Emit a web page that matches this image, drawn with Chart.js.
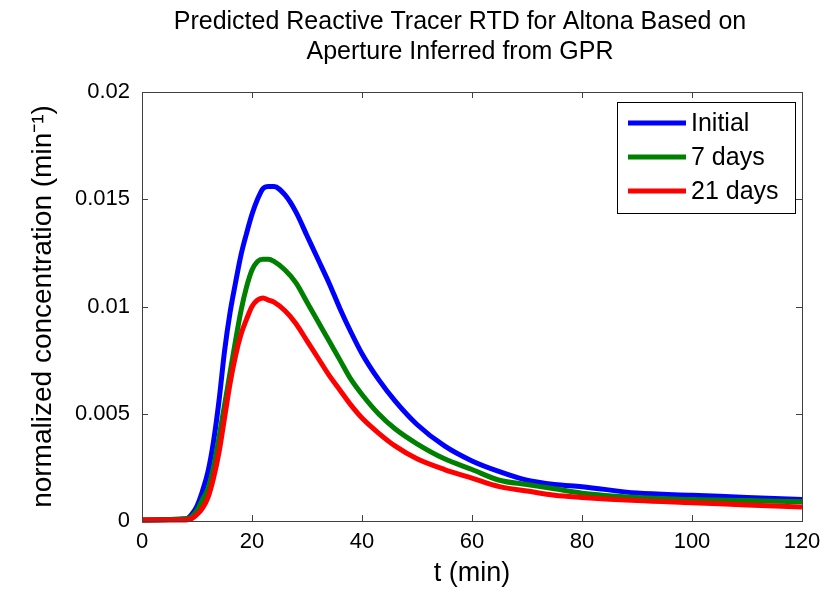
<!DOCTYPE html>
<html>
<head>
<meta charset="utf-8">
<script src="https://cdn.jsdelivr.net/npm/chart.js@4.4.1/dist/chart.umd.min.js"></script>
<style>
  html, body { margin: 0; padding: 0; background: #fff; }
  #wrap { width: 836px; height: 590px; }
</style>
</head>
<body>
<div id="wrap"><canvas id="rtd" width="836" height="590"></canvas></div>
<script>
// time (min)
const time = [0, 8, 9, 10, 11, 12, 13, 14, 15, 16, 17, 18, 19, 20, 21, 22, 23, 24, 26, 28, 30,
  32, 34, 36, 38, 40, 43, 46, 50, 55, 60, 65, 70, 75, 80, 90, 100, 110, 120];

// normalized concentration (1/min)
const initial = [0.00005, 0.0001, 0.0003, 0.0007, 0.0014, 0.0023, 0.0037, 0.0056, 0.0079, 0.0097, 0.0111,
  0.0124, 0.0134, 0.0143, 0.0150, 0.0155, 0.0156, 0.0156, 0.0152, 0.0144, 0.0133,
  0.0122, 0.0111, 0.0099, 0.0088, 0.0078, 0.0066, 0.0056, 0.0045, 0.0035, 0.0028,
  0.0023, 0.0019, 0.0017, 0.0016, 0.0013, 0.0012, 0.0011, 0.0010];
const sevenDays = [0.00005, 0.0001, 0.0002, 0.0005, 0.0010, 0.0015, 0.0025, 0.0039, 0.0054, 0.0069, 0.0084,
  0.0098, 0.0109, 0.0117, 0.0121, 0.0122, 0.0122, 0.0121, 0.0117, 0.0111, 0.0102,
  0.0093, 0.0084, 0.0075, 0.0066, 0.0059, 0.0050, 0.0043, 0.0036, 0.0029, 0.0024,
  0.0019, 0.0017, 0.0015, 0.0013, 0.0011, 0.0010, 0.00095, 0.0009];
const twentyOneDays = [0.00005, 0.00005, 0.0001, 0.0003, 0.0006, 0.0011, 0.0020, 0.0032, 0.0048, 0.0064, 0.0077,
  0.0087, 0.0094, 0.0100, 0.0103, 0.0104, 0.0103, 0.0102, 0.0098, 0.0092, 0.0084,
  0.0076, 0.0068, 0.0061, 0.0054, 0.0048, 0.0041, 0.0035, 0.0029, 0.0024, 0.0020,
  0.0016, 0.0014, 0.0012, 0.0011, 0.00095, 0.00085, 0.00075, 0.00065];

const seriesLabels = ['Initial', '7 days', '21 days'];
const seriesColors = ['#0000ff', '#008000', '#ff0000'];
const titleLines = ['Predicted Reactive Tracer RTD for Altona Based on', 'Aperture Inferred from GPR'];

const FONT = '"Liberation Sans", Arial, Helvetica, sans-serif';
const AXIS = '#404040';

function toPoints(values) {
  return time.map((t, i) => ({ x: t, y: values[i] }));
}

// MATLAB style box, inward ticks, title and legend
const matlabLook = {
  id: 'matlabLook',
  afterDraw(chart) {
    const ctx = chart.ctx;
    const a = chart.chartArea;
    const xs = chart.scales.x;
    const ys = chart.scales.y;
    ctx.save();

    // title
    ctx.fillStyle = '#000';
    ctx.font = '25px ' + FONT;
    ctx.textAlign = 'center';
    ctx.textBaseline = 'middle';
    titleLines.forEach((line, i) => ctx.fillText(line, 460, 22 + i * 30));

    // frame
    ctx.strokeStyle = AXIS;
    ctx.lineWidth = 1;
    ctx.strokeRect(a.left + 0.5, a.top + 0.5, a.right - a.left, a.bottom - a.top);

    // inward ticks
    const tl = 6;
    ctx.beginPath();
    xs.ticks.forEach(tk => {
      const px = Math.round(xs.getPixelForValue(tk.value)) + 0.5;
      ctx.moveTo(px, a.bottom); ctx.lineTo(px, a.bottom - tl);
      ctx.moveTo(px, a.top); ctx.lineTo(px, a.top + tl);
    });
    ys.ticks.forEach(tk => {
      const py = Math.round(ys.getPixelForValue(tk.value)) + 0.5;
      ctx.moveTo(a.left, py); ctx.lineTo(a.left + tl, py);
      ctx.moveTo(a.right, py); ctx.lineTo(a.right - tl, py);
    });
    ctx.stroke();

    // legend box
    const box = { x: 617, y: 102, w: 178, h: 111 };
    ctx.fillStyle = '#fff';
    ctx.fillRect(box.x, box.y, box.w, box.h);
    ctx.strokeStyle = '#000';
    ctx.strokeRect(box.x + 0.5, box.y + 0.5, box.w, box.h);
    ctx.font = '25px ' + FONT;
    ctx.textAlign = 'left';
    ctx.textBaseline = 'middle';
    chart.data.datasets.forEach((ds, i) => {
      const cy = 123 + i * 34;
      ctx.strokeStyle = ds.borderColor;
      ctx.lineWidth = 5;
      ctx.beginPath();
      ctx.moveTo(628, cy); ctx.lineTo(686, cy);
      ctx.stroke();
      ctx.fillStyle = '#000';
      ctx.fillText(ds.label, 691, cy + 1);
    });
    ctx.restore();
  }
};

new Chart(document.getElementById('rtd'), {
  type: 'line',
  data: {
    datasets: [
      { label: seriesLabels[0], data: toPoints(initial), borderColor: seriesColors[0], order: 2 },
      { label: seriesLabels[1], data: toPoints(sevenDays), borderColor: seriesColors[1], order: 1 },
      { label: seriesLabels[2], data: toPoints(twentyOneDays), borderColor: seriesColors[2], order: 0 }
    ]
  },
  options: {
    responsive: false,
    animation: false,
    layout: { padding: { top: 92, right: 34, bottom: 0, left: 0 } },
    elements: {
      line: { borderWidth: 5, cubicInterpolationMode: 'monotone', fill: false },
      point: { radius: 0 }
    },
    datasets: { line: { clip: false } },
    plugins: {
      legend: { display: false },
      tooltip: { enabled: false }
    },
    scales: {
      x: {
        type: 'linear',
        min: 0, max: 120,
        afterFit: s => { s.height = 69; },
        grid: { display: false, drawTicks: false },
        border: { display: false },
        ticks: { stepSize: 20, padding: 8, color: '#000', font: { family: FONT, size: 22 } },
        title: { display: true, text: 't (min)', color: '#000', padding: 0, font: { family: FONT, size: 27 } }
      },
      y: {
        type: 'linear',
        min: 0, max: 0.02,
        afterFit: s => { s.width = 142; },
        grid: { display: false, drawTicks: false },
        border: { display: false },
        ticks: {
          stepSize: 0.005, padding: 12, color: '#000', font: { family: FONT, size: 22 },
          callback: v => v === 0 ? '0' : String(+v.toFixed(3))
        },
        title: {
          display: true, text: 'normalized concentration (min\u207B\u00B9)', color: '#000',
          padding: { top: 26, bottom: 0 }, font: { family: FONT, size: 28 }
        }
      }
    }
  },
  plugins: [matlabLook]
});
</script>
</body>
</html>
